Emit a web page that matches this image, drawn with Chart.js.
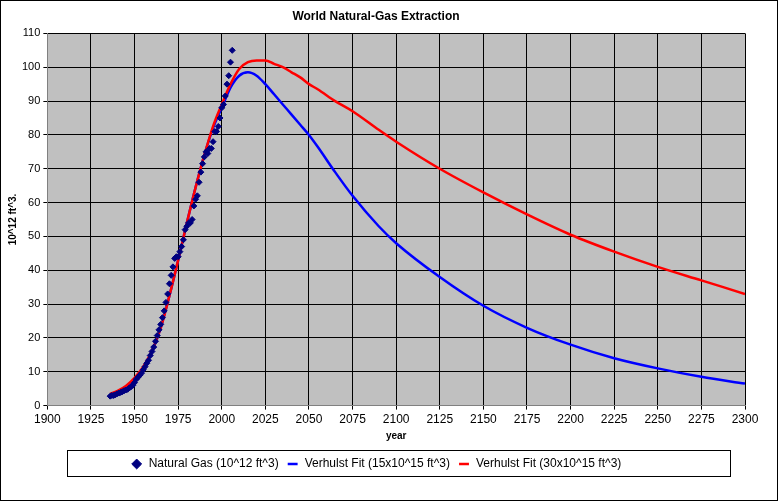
<!DOCTYPE html>
<html>
  <head>
    <meta charset="UTF-8" />
    <title>World Natural-Gas Extraction</title>
    <script src="https://cdn.jsdelivr.net/npm/chart.js"></script>
    <style>
      body { margin: 0; background: #ffffff; }
      .wrap { position: relative; width: 776px; height: 499px; border: 1px solid #000; }
    </style>
  </head>
  <body>
    <div class="wrap"><canvas id="myChart"></canvas></div>
    <script>
      const gasYears = [1936,1937,1938,1939,1940,1941,1942,1943,1944,1945,1946,1947,1948,1949,1950,1951,1952,1953,1954,1955,1956,1957,1958,1959,1960,1961,1962,1963,1964,1965,1966,1967,1968,1969,1970,1971,1972,1973,1974,1975,1976,1977,1978,1979,1980,1981,1982,1983,1984,1985,1986,1987,1988,1989,1990,1991,1992,1993,1994,1995,1996,1997,1998,1999,2000,2001,2002,2003,2004,2005,2006];
      const gasValues = [2.8,3,3,3.2,3.5,3.7,3.9,4.1,4.4,4.6,4.8,5.2,5.6,6.0,6.8,7.8,8.4,9.0,9.6,10.6,11.5,12.5,13.4,14.8,16.0,17.3,19,20.7,22.4,24,26,28,30.5,33,36,38.5,41,43.5,44,44,45.5,47,49,52,53,54,54,55,59,61,62,66,69,71.5,73.5,75,74.5,76,76,78,81,81,82.5,85,88,89,91.5,95,97.5,101.5,105];

      const fitYears = [1936,1940,1945,1950,1955,1960,1965,1970,1975,1980,1985,1990,1995,2000,2005,2010,2015,2020,2025,2030,2035,2040,2045,2050,2055,2065,2075,2090,2100,2125,2150,2175,2200,2225,2250,2275,2300];
      const fit15 = [3,3.8,5.2,7.6,11,16,23,32.5,43,54,64.5,74,82,88,94,97.5,98.5,97.5,95,92,89,86,83,80,76.5,69,62,53,48,38,29.5,23,18,14,11,8.5,6.5];
      const fit30 = [3.5,4.3,5.8,8.2,11.5,16.3,23,32.5,43,54,64.5,74,82.5,89,95,99.5,101.5,102,102,101,100,98.5,97,95,93.5,90,87,81.5,78,70,63,56.5,50.5,45.5,41,37,33];

      const toXY = (xs, ys) => xs.map((x, i) => ({ x: x, y: ys[i] }));

      const plotBg = {
        id: "plotBg",
        beforeDraw(chart) {
          const a = chart.chartArea, c = chart.ctx;
          c.save();
          c.fillStyle = "#c0c0c0";
          c.fillRect(a.left, a.top, a.right - a.left, a.bottom - a.top);
          c.restore();
        },
        afterDraw(chart) {
          const l = chart.legend, c = chart.ctx;
          c.save();
          c.strokeStyle = "#000";
          c.lineWidth = 1;
          c.strokeRect(l.left + 60.5, l.top + 0.5, l.width - 75, l.height - 4);
          c.restore();
        }
      };

      const font = { family: "'Liberation Sans', Arial, sans-serif", size: 11 };

      new Chart(document.getElementById("myChart"), {
        type: "scatter",
        data: {
          datasets: [
            {
              label: "Natural Gas (10^12 ft^3)",
              data: toXY(gasYears, gasValues),
              pointStyle: "rectRot",
              pointRadius: 3,
              backgroundColor: "#000080",
              borderColor: "#000080",
              order: 0
            },
            {
              label: "Verhulst Fit (15x10^15 ft^3)",
              data: toXY(fitYears, fit15),
              showLine: true,
              borderColor: "#0000ff",
              backgroundColor: "#0000ff",
              borderWidth: 2.5,
              pointRadius: 0,
              cubicInterpolationMode: "monotone",
              pointStyle: "line",
              order: 2
            },
            {
              label: "Verhulst Fit (30x10^15 ft^3)",
              data: toXY(fitYears, fit30),
              showLine: true,
              borderColor: "#ff0000",
              backgroundColor: "#ff0000",
              borderWidth: 2.5,
              pointRadius: 0,
              cubicInterpolationMode: "monotone",
              pointStyle: "line",
              order: 1
            }
          ]
        },
        options: {
          responsive: true,
          maintainAspectRatio: false,
          animation: false,
          layout: { padding: { left: 6, right: 32, top: 4, bottom: 20 } },
          plugins: {
            title: {
              display: true,
              text: "World Natural-Gas Extraction",
              color: "#000",
              font: { family: font.family, size: 12, weight: "bold" },
              padding: { top: 4, bottom: 10 }
            },
            legend: {
              position: "bottom",
              labels: {
                color: "#000",
                font: { family: font.family, size: 12 },
                usePointStyle: true,
                boxWidth: 22,
                boxHeight: 7,
                padding: 8,
                sort: (a, b) => a.datasetIndex - b.datasetIndex
              }
            },
            tooltip: { enabled: false }
          },
          scales: {
            x: {
              type: "linear",
              min: 1900,
              max: 2300,
              ticks: { stepSize: 25, color: "#000", font: { family: font.family, size: 12 }, maxRotation: 0, callback: v => String(v) },
              grid: { color: "#000", drawTicks: true, tickLength: 4 },
              border: { color: "#808080" },
              title: { display: true, text: "year", color: "#000", font: { family: font.family, size: 10, weight: "bold" }, padding: { top: 0, bottom: 8 } }
            },
            y: {
              min: 0,
              max: 110,
              ticks: { stepSize: 10, color: "#000", font: font },
              grid: { color: "#000", tickLength: 4 },
              border: { color: "#808080" },
              title: { display: true, text: "10^12 ft^3.", color: "#000", font: { family: font.family, size: 10, weight: "bold" }, padding: 0 }
            }
          }
        },
        plugins: [plotBg]
      });
    </script>
  </body>
</html>
